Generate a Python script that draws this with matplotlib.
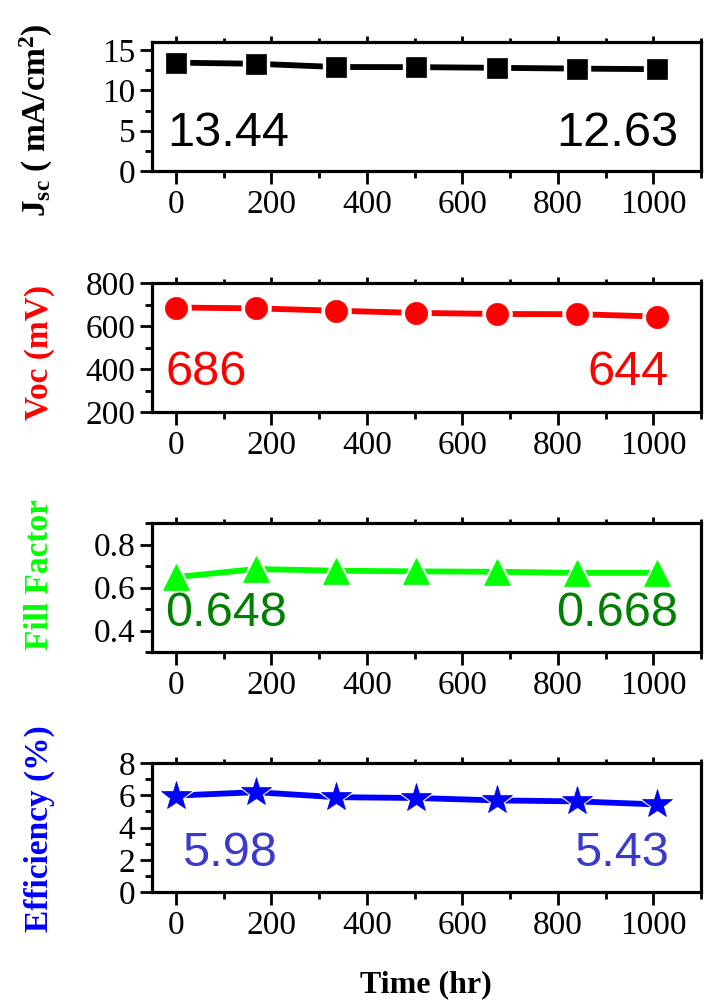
import matplotlib
matplotlib.use("Agg")
import matplotlib.pyplot as plt
from matplotlib.ticker import MultipleLocator, StrMethodFormatter

SERIF = ['Liberation Serif', 'DejaVu Serif']
plt.rcParams['font.family'] = SERIF
plt.rcParams['mathtext.fontset'] = 'custom'
plt.rcParams['mathtext.rm'] = 'Liberation Serif:bold'
plt.rcParams['mathtext.bf'] = 'Liberation Serif:bold'
plt.rcParams['mathtext.default'] = 'rm'

VALUE_FAMILY = ['Liberation Sans', 'DejaVu Sans']
VALUE_SIZE = 35

# Aging time in hours (weekly measurements)
hours = [0, 168, 336, 504, 672, 840, 1008]

jsc = [13.44, 13.30, 12.90, 12.88, 12.80, 12.70, 12.63]
voc = [686, 682, 671, 661, 656, 655, 644]
fill_factor = [0.648, 0.686, 0.678, 0.675, 0.673, 0.668, 0.668]
efficiency = [5.98, 6.19, 5.88, 5.83, 5.68, 5.62, 5.43]

jsc_labels = ["13.44", "12.63"]
voc_labels = ["686", "644"]
ff_labels = ["0.648", "0.668"]
eff_labels = ["5.98", "5.43"]

x_ticks = [0, 200, 400, 600, 800, 1000]

panels = [
    dict(y=jsc, ylim=(0, 16), major=5, minor=2.5, fmt='{x:g}', marker='s', ms=14,
         color='black', text_color='black', label_color='black',
         ylabel=r'J$_{\mathrm{sc}}$ ( mA/cm$^{\mathrm{2}}$)', label_y=0.39,
         texts=jsc_labels, text_y=0.29, left_x=0.027, right_x=0.958),
    dict(y=voc, ylim=(200, 800), major=200, minor=100, fmt='{x:g}', marker='o', ms=16,
         color='#ff0000', text_color='#ff0000', label_color='#ff0000',
         ylabel='Voc (mV)', label_y=0.465,
         texts=voc_labels, text_y=0.31, left_x=0.024, right_x=0.941),
    dict(y=fill_factor, ylim=(0.3, 0.9), major=0.2, minor=0.1, fmt='{x:.1f}', marker='^', ms=19,
         color='#00ff00', text_color='#008000', label_color='#00ff00',
         ylabel='Fill Factor', label_y=0.6,
         texts=ff_labels, text_y=0.30, left_x=0.024, right_x=0.958),
    dict(y=efficiency, ylim=(0, 8), major=2, minor=1, fmt='{x:g}', marker='*', ms=22,
         color='#0000ff', text_color='#3a3acc', label_color='#0000ff',
         ylabel='Efficiency (%)', label_y=0.49,
         texts=eff_labels, text_y=0.30, left_x=0.055, right_x=0.941),
]

fig = plt.figure(figsize=(7.04, 10.01), dpi=100)

ax_left = 152 / 704
ax_width = 549 / 704
ax_height = 129 / 1001
tops = [42, 283, 523, 763]

for top, p in zip(tops, panels):
    ax = fig.add_axes([ax_left, 1 - (top + 129) / 1001, ax_width, ax_height])
    # connecting line, a white halo under each marker, then the marker itself
    ax.plot(hours, p['y'], color=p['color'], lw=4.2, solid_capstyle='round', zorder=2)
    ax.plot(hours, p['y'], ls='none', marker=p['marker'], ms=p['ms'] + 5,
            color='white', mec='white', zorder=3)
    ax.plot(hours, p['y'], ls='none', marker=p['marker'], ms=p['ms'],
            color=p['color'], mec=p['color'], mew=0.5, zorder=4)

    ax.set_xlim(-50, 1100)
    ax.set_ylim(*p['ylim'])
    ax.set_xticks(x_ticks)
    ax.xaxis.set_minor_locator(MultipleLocator(100))
    ax.yaxis.set_major_locator(MultipleLocator(p['major']))
    ax.yaxis.set_minor_locator(MultipleLocator(p['minor']))
    ax.xaxis.set_major_formatter(StrMethodFormatter('{x:g}'))
    ax.yaxis.set_major_formatter(StrMethodFormatter(p['fmt']))

    for s in ax.spines.values():
        s.set_linewidth(2.3)
    ax.tick_params(axis='x', which='major', direction='out', length=9, width=2,
                   labelsize=24, pad=4, top=True, labelfontfamily='Liberation Serif')
    ax.tick_params(axis='x', which='minor', direction='out', length=5, width=2, top=True)
    ax.tick_params(axis='y', which='major', direction='out', length=9, width=2,
                   labelsize=24, pad=3, labelfontfamily='Liberation Serif')
    ax.tick_params(axis='y', which='minor', direction='out', length=5, width=2)
    for t in ax.xaxis.get_ticklines(minor=False)[1::2]:
        t.set_markersize(4)
    for t in ax.xaxis.get_ticklines(minor=True)[1::2]:
        t.set_markersize(3)

    ax.set_ylabel(p['ylabel'], fontsize=24, fontweight='bold', color=p['label_color'])
    ax.yaxis.set_label_coords(-0.177, p['label_y'])

    ax.text(p['left_x'], p['text_y'], p['texts'][0], transform=ax.transAxes,
            ha='left', va='center', fontsize=VALUE_SIZE, color=p['text_color'],
            family=VALUE_FAMILY)
    ax.text(p['right_x'], p['text_y'], p['texts'][1], transform=ax.transAxes,
            ha='right', va='center', fontsize=VALUE_SIZE, color=p['text_color'],
            family=VALUE_FAMILY)

fig.text(426 / 704, 1 - 985 / 1001, 'Time (hr)', ha='center', va='center',
         fontsize=23, fontweight='bold')

fig.savefig('out.png', dpi=100)
